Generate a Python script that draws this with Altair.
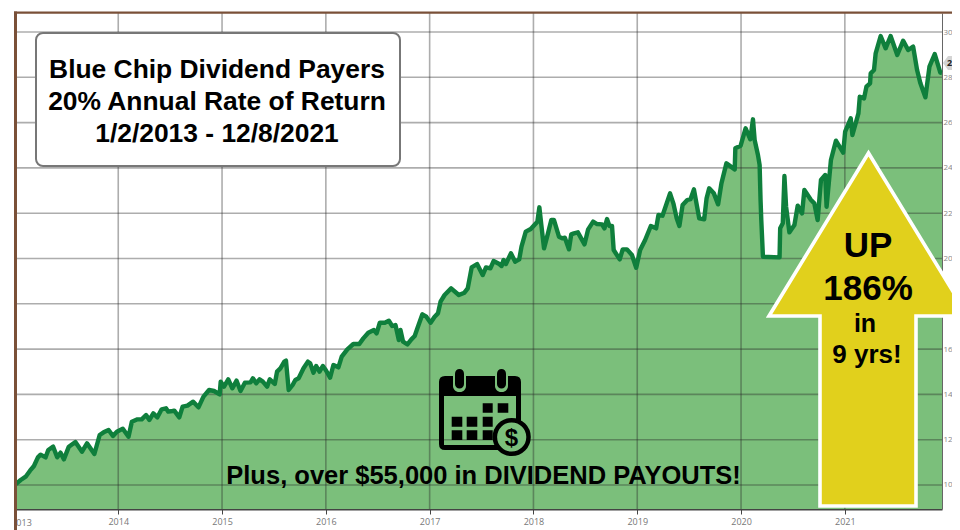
import altair as alt
import pandas as pd

years = [2013.015, 2013.022, 2013.060, 2013.108, 2013.150, 2013.188, 2013.226, 2013.252, 2013.300, 2013.326, 2013.373, 2013.412, 2013.444, 2013.476, 2013.524, 2013.587, 2013.651, 2013.699, 2013.770, 2013.821, 2013.859, 2013.907, 2013.949, 2013.987,
 2014.044, 2014.099, 2014.131, 2014.185, 2014.226, 2014.268, 2014.300, 2014.338, 2014.377, 2014.418, 2014.460, 2014.482, 2014.524, 2014.540, 2014.588, 2014.620, 2014.667, 2014.722, 2014.773, 2014.821, 2014.875, 2014.923, 2014.977, 2014.987,
 2015.019, 2015.060, 2015.099, 2015.140, 2015.178, 2015.220, 2015.274, 2015.297, 2015.329, 2015.361, 2015.393, 2015.434, 2015.460, 2015.508, 2015.530, 2015.562, 2015.600, 2015.616, 2015.642, 2015.680, 2015.706, 2015.738, 2015.785, 2015.827, 2015.849, 2015.881, 2015.907, 2015.939, 2015.971, 2015.999,
 2016.041, 2016.073, 2016.121, 2016.153, 2016.207, 2016.265, 2016.322, 2016.361, 2016.409, 2016.463, 2016.489, 2016.520, 2016.568, 2016.607, 2016.639, 2016.671, 2016.703, 2016.719, 2016.744, 2016.786, 2016.824, 2016.856, 2016.882, 2016.930, 2016.968,
 2017.009, 2017.048, 2017.080, 2017.105, 2017.144, 2017.207, 2017.281, 2017.335, 2017.367, 2017.405, 2017.457, 2017.511, 2017.543, 2017.585, 2017.616, 2017.671, 2017.693, 2017.712, 2017.735, 2017.783, 2017.824, 2017.863, 2017.885, 2017.926, 2017.974,
 2018.038, 2018.057, 2018.076, 2018.102, 2018.140, 2018.172, 2018.198, 2018.246, 2018.278, 2018.303, 2018.342, 2018.364, 2018.390, 2018.428, 2018.492, 2018.527, 2018.575, 2018.613, 2018.661, 2018.684, 2018.709, 2018.732, 2018.757, 2018.773, 2018.831, 2018.860, 2018.901, 2018.949, 2018.990,
 2019.028, 2019.076, 2019.131, 2019.182, 2019.204, 2019.243, 2019.316, 2019.348, 2019.380, 2019.406, 2019.437, 2019.482, 2019.514, 2019.546, 2019.597, 2019.645, 2019.668, 2019.693, 2019.738, 2019.779, 2019.811, 2019.859, 2019.939, 2019.945, 2019.996,
 2020.044, 2020.089, 2020.115, 2020.131, 2020.163, 2020.179, 2020.188, 2020.195, 2020.211, 2020.371, 2020.377, 2020.402, 2020.418, 2020.434, 2020.466, 2020.514, 2020.546, 2020.588, 2020.610, 2020.674, 2020.706, 2020.738, 2020.770, 2020.811, 2020.824, 2020.866, 2020.914, 2020.984,
 2021.003, 2021.057, 2021.073, 2021.131, 2021.144, 2021.185, 2021.208, 2021.243, 2021.249, 2021.281, 2021.297, 2021.345, 2021.393, 2021.441, 2021.505, 2021.562, 2021.610, 2021.658, 2021.696, 2021.728, 2021.776, 2021.815, 2021.866, 2021.920, 2021.936]

values = [10030, 10073, 10220, 10367, 10632, 10838, 11221, 11339, 11221, 11545, 11692, 11221, 11427, 11133, 11692, 11898, 11471, 11839, 11368, 12207, 12325, 12428, 12163, 12354,
 12487, 12134, 12796, 12899, 12899, 13090, 12870, 13164, 12987, 13341, 13385, 13238, 13267, 13281, 12987, 13458, 13502, 13679, 13429, 13900, 14194, 14150, 14003, 14562,
 14341, 14665, 14268, 14606, 14150, 14518, 14533, 14709, 14488, 14665, 14562, 14341, 14665, 14459, 15004, 15151, 15445, 15489, 14194, 14415, 14636, 14709, 15151, 15445, 15372, 14959, 15254, 15004, 15254, 15077,
 14737, 15297, 15194, 15665, 15989, 16224, 16224, 16474, 16724, 16842, 16695, 17166, 17166, 17254, 17019, 17063, 16401, 16842, 16327, 16209, 16430, 16577, 16916, 17534, 17431,
 17166, 17431, 17578, 18093, 18388, 18682, 18388, 18491, 18682, 19610, 19757, 19270, 19609, 19565, 19889, 19756, 19668, 19933, 19756, 20227, 19859, 19962, 20522, 21184, 21302,
 21626, 22259, 21478, 20448, 21110, 21699, 21699, 20963, 20890, 20919, 20404, 21066, 21110, 21155, 20625, 21287, 21626, 21522, 21508, 21331, 21743, 21434, 21434, 20374, 19962, 20404, 20404, 20154, 19594,
 20374, 20816, 21434, 21331, 21920, 21890, 22876, 22435, 21772, 21434, 22361, 22582, 22626, 23053, 21772, 21728, 22656, 23097, 22876, 22391, 23318, 24201, 23936, 24864, 24981,
 25747, 25261, 26144, 25232, 24569, 24128, 22582, 21699, 20079, 20050, 21331, 21552, 23642, 22288, 21153, 21477, 22331, 21992, 23023, 22581, 22434, 21698, 23464, 23685, 22287, 24347, 25201, 24671,
 25599, 26187, 25451, 26408, 27144, 27070, 27586, 27733, 28175, 28322, 29058, 29823, 29279, 29823, 28984, 29617, 29205, 29352, 28322, 27733, 27115, 28469, 29028, 28204, 28190]

year_ticks = [2014, 2015, 2016, 2017, 2018, 2019, 2020, 2021]
value_ticks = [10000, 12000, 14000, 16000, 18000, 20000, 22000, 24000, 26000, 28000, 30000]
box_lines = ["Blue Chip Dividend Payers", "20% Annual Rate of Return", "1/2/2013 - 12/8/2021"]
footer = "Plus, over $55,000 in DIVIDEND PAYOUTS!"
arrow_lines = ["UP", "186%", "in", "9 yrs!"]
last_flag = "2"

W, H = 926, 496
OX, OY = 16, 13
GREEN = "#7bbf7b"
LINE = "#0f7f3c"
BROWN = "#7a5038"
YELLOW = "#e1d01c"
BASE = 8940

xs = alt.Scale(domain=[2013.015, 2021.936], nice=False)
ys = alt.Scale(domain=[BASE, 30839], nice=False, zero=False)
x_axis = alt.Axis(values=year_ticks, format="d", grid=False, tickSize=5, tickColor="#444", tickWidth=1,
                  domainColor="#444", domainWidth=2, labelFont="Open Sans", labelFontSize=9,
                  labelColor="#777", labelPadding=3, labelOverlap=False, title=None)
y_axis = alt.Axis(orient="right", values=value_ticks, labelExpr="format(datum.value / 1000, 'd')", grid=False, ticks=False,
                  domainColor="#666", domainWidth=1, labelFont="Open Sans", labelFontSize=8,
                  labelColor="#888", labelPadding=1, labelOverlap=False, title=None)
df = pd.DataFrame({"year": years, "value": values})
df["base"] = BASE
one = alt.Data(values=[{"k": 1}])

def px(v):
    return alt.value(v - OX)

def py(v):
    return alt.value(v - OY)

def text(s, cx, base, size, align="center", weight="bold", color="black", font="Liberation Sans"):
    return alt.Chart(one).mark_text(text=s, align=align, baseline="alphabetic", fontSize=size,
                                    fontWeight=weight, font=font, color=color).encode(x=px(cx), y=py(base))

def box(x0, y0, x1, y1, color, r=0, **kw):
    return alt.Chart(one).mark_rect(color=color, cornerRadius=r, **kw).encode(
        x=px(x0), x2=px(x1), y=py(y0), y2=py(y1))

class Shape:
    def __init__(self, cx, cy, size):
        self.cx, self.cy, self.size = cx, cy, size
        self.parts = []
    def n(self, x, y):
        return f"{(x - self.cx) / (self.size / 2):.4f},{(y - self.cy) / (self.size / 2):.4f}"
    def poly(self, pts):
        self.parts.append("M" + "L".join(self.n(*p) for p in pts) + "Z")
        return self
    def rrect(self, x0, y0, x1, y1, r):
        n = self.n
        self.parts.append(
            f"M{n(x0 + r, y0)}L{n(x1 - r, y0)}Q{n(x1, y0)} {n(x1, y0 + r)}L{n(x1, y1 - r)}"
            f"Q{n(x1, y1)} {n(x1 - r, y1)}L{n(x0 + r, y1)}Q{n(x0, y1)} {n(x0, y1 - r)}"
            f"L{n(x0, y0 + r)}Q{n(x0, y0)} {n(x0 + r, y0)}Z")
        return self
    def chart(self, **kw):
        return alt.Chart(one).mark_point(shape="".join(self.parts), size=self.size ** 2, filled=True, **kw).encode(
            x=px(self.cx), y=py(self.cy))

area = alt.Chart(df).mark_area(color=GREEN, opacity=1, interpolate="linear").encode(
    x=alt.X("year:Q", scale=xs, axis=x_axis),
    y=alt.Y("value:Q", scale=ys, axis=y_axis),
    y2=alt.Y2("base:Q"),
)
h_grid = alt.Chart(pd.DataFrame({"v": value_ticks})).mark_rule(color="#282828", opacity=0.38, strokeWidth=1.6).encode(
    y=alt.Y("v:Q", scale=ys, axis=y_axis))
v_grid = alt.Chart(pd.DataFrame({"v": year_ticks})).mark_rule(color="#282828", opacity=0.38, strokeWidth=1.6).encode(
    x=alt.X("v:Q", scale=xs, axis=x_axis))
line = alt.Chart(df).mark_line(color=LINE, strokeWidth=4.4, strokeJoin="round", interpolate="linear").encode(
    x=alt.X("year:Q", scale=xs, axis=x_axis), y=alt.Y("value:Q", scale=ys, axis=y_axis))

title_box = box(36, 33, 400, 166, "white", r=7, stroke="#777777", strokeWidth=2)
title_text = [text(s, 217, b, 26.4) for s, b in zip(box_lines, [78, 110, 142])]

arrow = Shape(868, 330, 400).poly([(868.5, 153), (968, 316), (916, 316), (916, 506), (820, 506), (820, 316), (769, 316)]).chart(
    fill=YELLOW, stroke="white", strokeWidth=3.6, strokeMiterLimit=10, opacity=1, fillOpacity=1)
arrow_text = [text(s, c, b, z) for s, c, b, z in zip(arrow_lines, [868, 868, 865, 867], [257, 300, 332, 363], [35, 35, 25, 26])]

cal = Shape(480, 410, 120)
cal.rrect(439, 376, 521, 450, 6)
cal.poly([(444, 396), (444, 445), (516, 445), (516, 396)])
cols = [(451.7, 462.3), (466.7, 477.3), (482.7, 492.7), (497.7, 508.3)]
rows = [(403.3, 412.7, [2, 3]), (416.7, 426.7, [0, 1, 2]), (430.3, 440, [0, 1, 2])]
for y0, y1, cs in rows:
    for c in cs:
        x0, x1 = cols[c]
        cal.poly([(x0, y0), (x1, y0), (x1, y1), (x0, y1)])
calendar = cal.chart(fill="black", opacity=1, fillOpacity=1, strokeOpacity=0)
pills = []
for cx in (459.5, 501.5):
    pills.append(box(cx - 6.5, 369, cx + 6.5, 392, GREEN, r=6))
    pills.append(box(cx - 4.5, 369, cx + 4.5, 388.5, "black", r=4.5))
coin = alt.Chart(one).mark_point(shape="circle", size=1134, filled=True, fill=GREEN, stroke="black",
                                 strokeWidth=4.5, opacity=1, fillOpacity=1).encode(x=px(511.7), y=py(437))
dollar = text("$", 511.5, 446, 24)
foot = text(footer, 483.5, 484, 25.5)

flag = Shape(950, 63, 40).poly([(943, 63), (948, 56), (965, 56), (965, 70), (948, 70)]).chart(
    fill="#d4d4d4", opacity=1, fillOpacity=1, strokeOpacity=0)
flag_text = text(last_flag, 947, 66, 9, align="left", color="#222", font="Open Sans")

first_year = text("2013", 21.5, 526, 9, weight="normal", color="#777", font="Open Sans")
mask = box(-20, 510, 16, 535, "white")
frame_left = box(14, 11.5, 17, 535, BROWN)
frame_top = box(14, 11.5, 965, 13.7, BROWN)

chart = alt.layer(
    area, h_grid, v_grid, line, title_box, *title_text, arrow, *arrow_text,
    calendar, *pills, coin, dollar, foot, flag, flag_text, first_year, mask, frame_left, frame_top,
).properties(
    width=W, height=H,
    padding={"left": 8, "top": 5, "right": 10, "bottom": 21},
    autosize=alt.AutoSizeParams(type="none"),
    background="white",
).configure_view(stroke=None)

chart.save("out.html", embed_options={"renderer": "svg", "actions": False})
